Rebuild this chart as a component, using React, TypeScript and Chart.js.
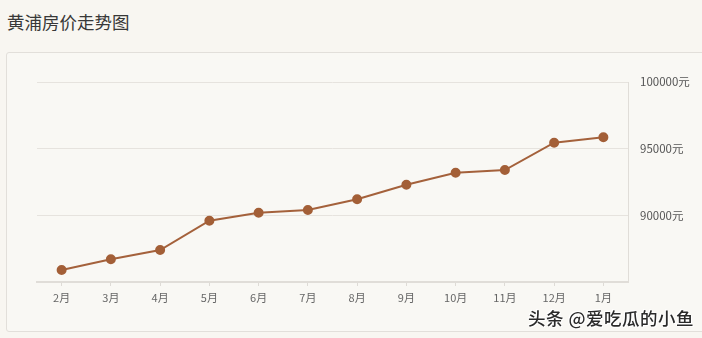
import React, { useEffect, useRef } from "react";
import { Chart, registerables } from "chart.js";

Chart.register(...registerables);

const months = ["2月", "3月", "4月", "5月", "6月", "7月", "8月", "9月", "10月", "11月", "12月", "1月"];
const prices = [85900, 86700, 87400, 89600, 90200, 90400, 91200, 92300, 93200, 93400, 95450, 95850];
const yMin = 85000;
const yMax = 100000;
const yStep = 5000;

export default function App() {
  const ref = useRef<HTMLCanvasElement | null>(null);

  useEffect(() => {
    document.body.style.margin = "0";
    const ctx = ref.current!;
    const chart = new Chart(ctx, {
      type: "line",
      data: {
        labels: months,
        datasets: [
          {
            data: prices,
            borderColor: "#a4613b",
            backgroundColor: "#a35f37",
            pointBackgroundColor: "#a35f37",
            pointBorderColor: "#a35f37",
            pointRadius: 4,
            borderWidth: 2,
            tension: 0,
          },
        ],
      },
      options: {
        animation: false,
        responsive: false,
        maintainAspectRatio: false,
        layout: { padding: { left: 37, top: 82, right: 0, bottom: 0 } },
        plugins: { legend: { display: false }, tooltip: { enabled: false } },
        scales: {
          x: {
            offset: true,
            grid: {
              drawOnChartArea: false,
              drawTicks: true,
              tickLength: 4,
              color: "#dedbd6",
              offset: false,
            },
            border: { display: true, color: "#e0ddd8", width: 2 },
            ticks: {
              color: "#666",
              font: { size: 11, family: "'Noto Sans CJK SC', sans-serif" },
              padding: 5,
              maxRotation: 0,
              autoSkip: false,
            },
            afterFit: (s: any) => {
              s.height = 338 - 282;
            },
          },
          y: {
            position: "right",
            min: yMin,
            max: yMax,
            grid: { color: "#e6e3de", drawTicks: false, lineWidth: 1 },
            border: { display: true, color: "#e0ddd8", width: 1 },
            ticks: {
              stepSize: yStep,
              color: "#555",
              padding: 12,
              font: { size: 11.5, family: "'Noto Sans CJK SC', sans-serif" },
              callback: (v: any) => (Number(v) === yMin ? "" : `${v}元`),
            },
            afterFit: (s: any) => {
              s.width = 702 - 628;
            },
          },
        },
      },
    });
    return () => chart.destroy();
  }, []);

  return (
    <div
      style={{
        position: "fixed",
        left: 0,
        top: 0,
        width: 702,
        height: 338,
        background: "#f8f6f1",
        overflow: "hidden",
        fontFamily: "'Noto Sans CJK SC', sans-serif",
      }}
    >
      <div
        style={{
          position: "absolute",
          left: 7,
          top: 10,
          fontSize: 17.5,
          color: "#383838",
          lineHeight: "24px",
        }}
      >
        黄浦房价走势图
      </div>
      <div
        style={{
          position: "absolute",
          left: 6,
          top: 52,
          width: 710,
          height: 280,
          border: "1px solid #e2dfda",
          borderRadius: 3,
          background: "#f9f8f4",
          boxSizing: "border-box",
        }}
      />
      <canvas
        ref={ref}
        width={702}
        height={338}
        style={{ position: "absolute", left: 0, top: 0, width: 702, height: 338 }}
      />
      <div
        style={{
          position: "absolute",
          left: 528,
          top: 306,
          fontSize: 17.5,
          fontWeight: 500,
          letterSpacing: 0.5,
          color: "#2a2a2a",
          lineHeight: "24px",
          textShadow: "0 0 2px #fff, 0 0 2px #fff, 1px 1px 0 #fff, -1px -1px 0 #fff",
          whiteSpace: "nowrap",
        }}
      >
        头条 @爱吃瓜的小鱼
      </div>
    </div>
  );
}
